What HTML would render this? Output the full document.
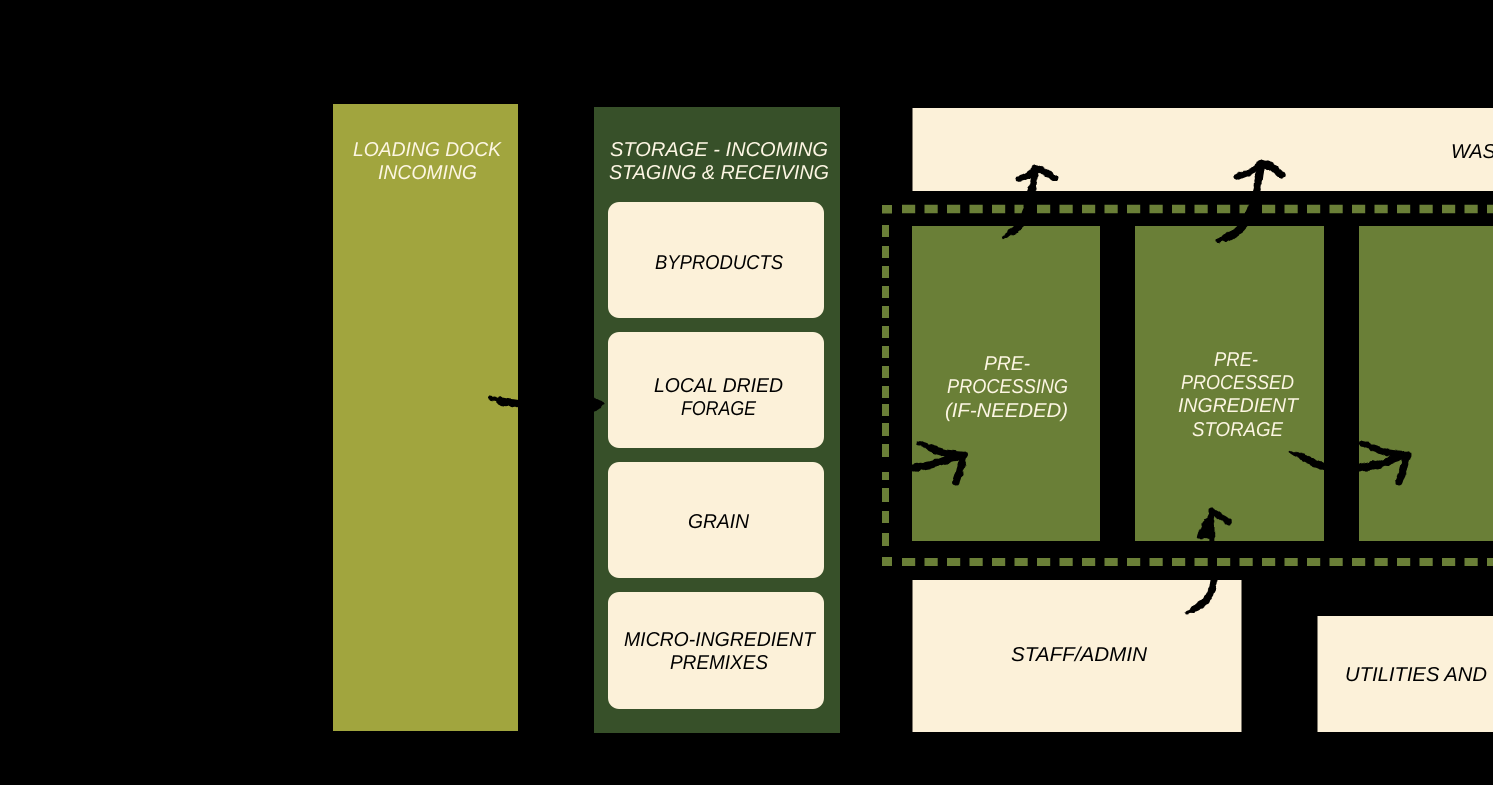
<!DOCTYPE html>
<html><head><meta charset="utf-8"><style>
html,body{margin:0;padding:0;background:#000;width:1493px;height:785px;overflow:hidden}
svg{display:block}
text{font-family:"Liberation Sans",sans-serif;font-style:italic;font-size:20px;text-rendering:geometricPrecision}
.w{fill:#fdf6e3}.k{fill:#000}
.a{fill:none;stroke:#000;stroke-linecap:round;stroke-linejoin:round}
</style></head><body>
<svg width="1493" height="785" viewBox="0 0 1493 785" xmlns="http://www.w3.org/2000/svg">
<defs>
<filter id="r" filterUnits="userSpaceOnUse" x="0" y="0" width="1493" height="785">
<feTurbulence type="fractalNoise" baseFrequency="0.14" numOctaves="2" seed="4" result="n"/>
<feDisplacementMap in="SourceGraphic" in2="n" scale="4" xChannelSelector="R" yChannelSelector="G"/>
</filter>
</defs>
<rect width="1493" height="785" fill="#000"/>
<rect x="333" y="104" width="185" height="627" fill="#a1a53e"/>
<rect x="594" y="107" width="246" height="626" fill="#375029"/>
<rect x="608" y="202" width="216" height="116" rx="11" fill="#fcf1d9"/>
<rect x="608" y="332" width="216" height="116" rx="11" fill="#fcf1d9"/>
<rect x="608" y="462" width="216" height="116" rx="11" fill="#fcf1d9"/>
<rect x="608" y="592" width="216" height="117" rx="11" fill="#fcf1d9"/>
<rect x="912.500" y="108" width="581" height="83" fill="#fcf1d9"/>
<rect x="912" y="226" width="188" height="315" fill="#6a7f37"/>
<rect x="1135" y="226" width="189" height="315" fill="#6a7f37"/>
<rect x="1359" y="226" width="134" height="315" fill="#6a7f37"/>
<rect x="912.500" y="580" width="329" height="152" fill="#fcf1d9"/>
<rect x="1317.500" y="616" width="176" height="116" fill="#fcf1d9"/>

<!-- dashed boundary -->
<g fill="#6a7f37">
<rect x="882" y="205" width="10" height="8.500"/>
<rect x="882" y="557" width="10" height="9"/>
<rect x="882" y="225" width="7" height="12"/><rect x="882" y="246" width="7" height="12"/>
<rect x="882" y="266" width="7" height="12"/><rect x="882" y="286" width="7" height="12"/>
<rect x="882" y="306" width="7" height="12"/><rect x="882" y="326" width="7" height="12"/>
<rect x="882" y="346" width="7" height="12"/><rect x="882" y="366" width="7" height="12"/>
<rect x="882" y="386" width="7" height="12"/><rect x="882" y="404" width="7" height="12"/>
<rect x="882" y="423" width="7" height="13"/><rect x="882" y="444" width="7" height="13"/>
<rect x="882" y="472" width="7" height="8"/><rect x="882" y="488" width="7" height="14"/>
<rect x="882" y="511" width="7" height="12"/><rect x="882" y="533" width="7" height="13"/>
</g>
<line x1="902" y1="209" x2="1493" y2="209" stroke="#6a7f37" stroke-width="8.500" stroke-dasharray="13.200 9.300"/>
<line x1="902" y1="562" x2="1493" y2="562" stroke="#6a7f37" stroke-width="8" stroke-dasharray="13.200 9.300"/>

<!-- connectors -->
<g class="a" filter="url(#r)">
<!-- loading dock to storage -->
<path d="M489,398 L503,401" stroke-width="3"/>
<path d="M500,401 L520,404 L596,405" stroke-width="7.500"/>
<path d="M594,399 L604,404 L594,411Z" fill="#000" stroke-width="2"/>
<!-- up 1 -->
<path d="M1004,237 L1012,233" stroke-width="4"/>
<path d="M1012,232 C1020,227 1024,220 1027,208 L1032,190 L1035,170" stroke-width="7.500"/>
<path d="M1019,179 L1028,176 L1035,168" stroke-width="6.500"/>
<path d="M1035,168 L1046,172 L1055,178" stroke-width="7"/>
<!-- up 2 -->
<path d="M1218,241 L1228,237" stroke-width="4"/>
<path d="M1226,238 C1238,233 1247,224 1250,212 L1257,190 L1261,166" stroke-width="8"/>
<path d="M1237,177 L1250,172 L1261,163" stroke-width="6.500"/>
<path d="M1261,163 L1272,167 L1282,175" stroke-width="7.500"/>
<!-- into pre-processing -->
<path d="M912,468 L930,465 L964,455" stroke-width="7.500"/>
<path d="M919,443 L935,450" stroke-width="5"/>
<path d="M930,448 L945,453 L965,455" stroke-width="7"/>
<path d="M964,456 L960,470 L956,482" stroke-width="7"/>
<!-- between 2 and 3 -->
<path d="M1291,452 L1306,459" stroke-width="3.500"/>
<path d="M1303,457 L1315,464 L1326,467" stroke-width="7"/>
<path d="M1359,468 L1377,465 L1407,455" stroke-width="7.500"/>
<path d="M1362,443 L1378,450" stroke-width="5"/>
<path d="M1373,448 L1388,453 L1408,455" stroke-width="7"/>
<path d="M1407,456 L1403,470 L1399,482" stroke-width="7"/>
<!-- staff up -->
<path d="M1187,613 L1195,610" stroke-width="3.500"/>
<path d="M1194,609 C1206,603 1213,594 1214,580 L1213,545" stroke-width="7"/>
<path d="M1212,545 L1211,512" stroke-width="6"/>
<path d="M1205,521 L1197,537 L1212,538 L1212,516Z" fill="#000" stroke-width="2"/>
<path d="M1211,511 L1220,516 L1229,522" stroke-width="6"/>
</g>

<!-- labels -->
<text class="w" x="353" y="156" textLength="148" lengthAdjust="spacingAndGlyphs">LOADING DOCK</text>
<text class="w" x="378" y="179" textLength="99" lengthAdjust="spacingAndGlyphs">INCOMING</text>
<text class="w" x="610" y="156" textLength="218" lengthAdjust="spacingAndGlyphs">STORAGE - INCOMING</text>
<text class="w" x="609" y="179" textLength="220" lengthAdjust="spacingAndGlyphs">STAGING &amp; RECEIVING</text>
<text class="k" x="655" y="269" textLength="128" lengthAdjust="spacingAndGlyphs">BYPRODUCTS</text>
<text class="k" x="654" y="392" textLength="129" lengthAdjust="spacingAndGlyphs">LOCAL DRIED</text>
<text class="k" x="681" y="415" textLength="75" lengthAdjust="spacingAndGlyphs">FORAGE</text>
<text class="k" x="688" y="528" textLength="61" lengthAdjust="spacingAndGlyphs">GRAIN</text>
<text class="k" x="624" y="646" textLength="191" lengthAdjust="spacingAndGlyphs">MICRO-INGREDIENT</text>
<text class="k" x="670" y="669" textLength="98" lengthAdjust="spacingAndGlyphs">PREMIXES</text>
<text class="k" x="1451" y="158" textLength="70" lengthAdjust="spacingAndGlyphs">WASTE</text>
<text class="w" x="984" y="370" textLength="46" lengthAdjust="spacingAndGlyphs">PRE-</text>
<text class="w" x="947" y="393" textLength="121" lengthAdjust="spacingAndGlyphs">PROCESSING</text>
<text class="w" x="945" y="417" textLength="123" lengthAdjust="spacingAndGlyphs">(IF-NEEDED)</text>
<text class="w" x="1214" y="366" textLength="44" lengthAdjust="spacingAndGlyphs">PRE-</text>
<text class="w" x="1181" y="389" textLength="113" lengthAdjust="spacingAndGlyphs">PROCESSED</text>
<text class="w" x="1178" y="412" textLength="120" lengthAdjust="spacingAndGlyphs">INGREDIENT</text>
<text class="w" x="1192" y="436" textLength="91" lengthAdjust="spacingAndGlyphs">STORAGE</text>
<text class="k" x="1011" y="661" textLength="136" lengthAdjust="spacingAndGlyphs">STAFF/ADMIN</text>
<text class="k" x="1345" y="681" textLength="142" lengthAdjust="spacingAndGlyphs">UTILITIES AND</text>
</svg>
</body></html>
